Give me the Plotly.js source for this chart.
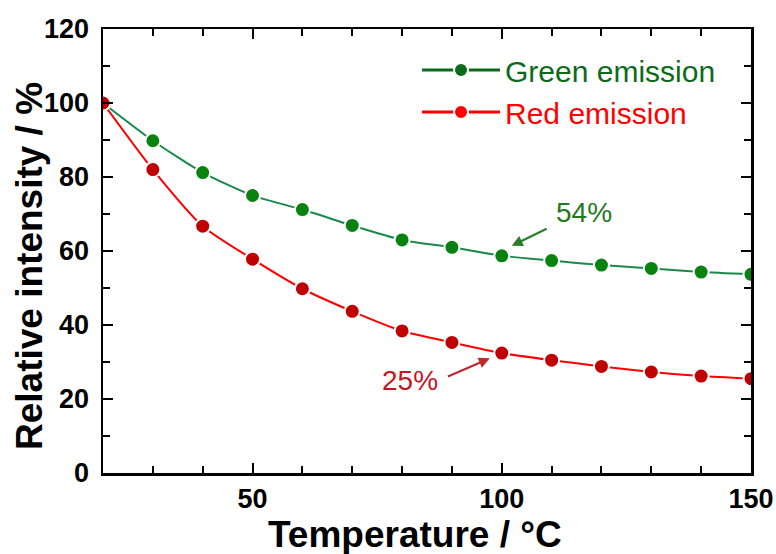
<!DOCTYPE html>
<html>
<head>
<meta charset="utf-8">
<script src="https://cdn.plot.ly/plotly-3.0.1.min.js"></script>
<style>body{margin:0;padding:0;background:#fff}#chart{width:776px;height:554px}</style>
</head>
<body>
<div id="chart"></div>
<script>
const temperature = [20, 30, 40, 50, 60, 70, 80, 90, 100, 110, 120, 130, 140, 150];
const greenEmission = [100, 89.8, 81.2, 75.0, 71.2, 66.9, 63.0, 61.0, 58.7, 57.4, 56.2, 55.3, 54.3, 53.7];
const redEmission = [100, 82.0, 66.7, 57.8, 49.8, 43.7, 38.4, 35.3, 32.4, 30.5, 28.8, 27.3, 26.2, 25.5];
const seriesNames = ['Green emission', 'Red emission'];
const xTickVals = [50, 100, 150];
const yTickVals = [0, 20, 40, 60, 80, 100, 120];
const xTitle = 'Temperature / °C';
const yTitle = 'Relative intensity / %';

const font = '"Liberation Sans", Arial, sans-serif';
const traces = [
  {x: temperature, y: greenEmission, mode: 'lines+markers', showlegend: false,
   line: {color: '#1a8a4c', width: 2, shape: 'spline', smoothing: 0.6},
   marker: {color: '#0a820f', size: 15, line: {color: '#ffffff', width: 2}}},
  {x: temperature, y: redEmission, mode: 'lines+markers', showlegend: false,
   line: {color: '#ff0000', width: 2, shape: 'spline', smoothing: 0.6},
   marker: {color: '#c00000', size: 15, line: {color: '#ffffff', width: 2}}},
  {x: [null], y: [null], mode: 'lines+markers', name: '<span style="color:#0b6b1a">' + seriesNames[0] + '</span>',
   line: {color: '#0b6b1a', width: 3}, marker: {color: '#0b6b1a', size: 14, line: {color: '#ffffff', width: 2}}},
  {x: [null], y: [null], mode: 'lines+markers', name: '<span style="color:#ff0000">' + seriesNames[1] + '</span>',
   line: {color: '#ff0000', width: 3}, marker: {color: '#ff0000', size: 14, line: {color: '#ffffff', width: 2}}}
];

const layout = {
  width: 776, height: 554,
  margin: {l: 103, r: 25, t: 29, b: 81},
  paper_bgcolor: '#ffffff', plot_bgcolor: '#ffffff',
  font: {family: font, color: '#000'},
  showlegend: true,
  legend: {x: 0.4846, y: 0.966, xanchor: 'left', yanchor: 'top', bgcolor: 'rgba(0,0,0,0)',
           font: {family: font, size: 30}, itemwidth: 78, tracegroupgap: 0},
  xaxis: {range: [20, 150], tickvals: xTickVals, showgrid: false, zeroline: false,
          showline: true, linecolor: '#000', linewidth: 2.5, mirror: 'allticks',
          ticks: 'inside', ticklen: 10, tickwidth: 2, tickcolor: '#000',
          tickfont: {family: font, size: 27, weight: 'bold'},
          minor: {dtick: 10, tick0: 0, ticks: 'inside', ticklen: 7, tickwidth: 2, tickcolor: '#000', showgrid: false}},
  yaxis: {range: [0, 120], tickvals: yTickVals, showgrid: false, zeroline: false,
          showline: true, linecolor: '#000', linewidth: 2.5, mirror: 'allticks',
          ticks: 'inside', ticklen: 10, tickwidth: 2, tickcolor: '#000',
          tickfont: {family: font, size: 27, weight: 'bold'}, ticklabelstandoff: 6,
          minor: {dtick: 10, tick0: 0, ticks: 'inside', ticklen: 7, tickwidth: 2, tickcolor: '#000', showgrid: false}},
  annotations: [
    {xref: 'paper', yref: 'paper', x: (415 - 103) / 648, y: -(534 - 473) / 444, text: xTitle, showarrow: false,
     xanchor: 'center', yanchor: 'middle', font: {family: font, size: 37, weight: 'bold'}},
    {xref: 'paper', yref: 'paper', x: -(103 - 29) / 648, y: (473 - 266) / 444, text: yTitle, showarrow: false,
     textangle: -90, xanchor: 'center', yanchor: 'middle', font: {family: font, size: 37, weight: 'bold'}},
    {x: 116.5, y: 70.3, xref: 'x', yref: 'y', text: '54%', showarrow: false,
     font: {family: font, size: 28, color: '#1f7a1f'}},
    {x: 102.0, y: 61.4, xref: 'x', yref: 'y', ax: 109.3, ay: 66.2, axref: 'x', ayref: 'y',
     text: '', showarrow: true, arrowhead: 2, arrowsize: 1, arrowwidth: 2.2, arrowcolor: '#2a7d2a'},
    {x: 81.6, y: 25.1, xref: 'x', yref: 'y', text: '25%', showarrow: false,
     font: {family: font, size: 28, color: '#c8141e'}},
    {x: 97.6, y: 31.0, xref: 'x', yref: 'y', ax: 88.9, ay: 25.9, axref: 'x', ayref: 'y',
     text: '', showarrow: true, arrowhead: 2, arrowsize: 1, arrowwidth: 2.2, arrowcolor: '#c0282e'}
  ]
};

Plotly.newPlot('chart', traces, layout, {displayModeBar: false, staticPlot: true});
</script>
</body>
</html>
